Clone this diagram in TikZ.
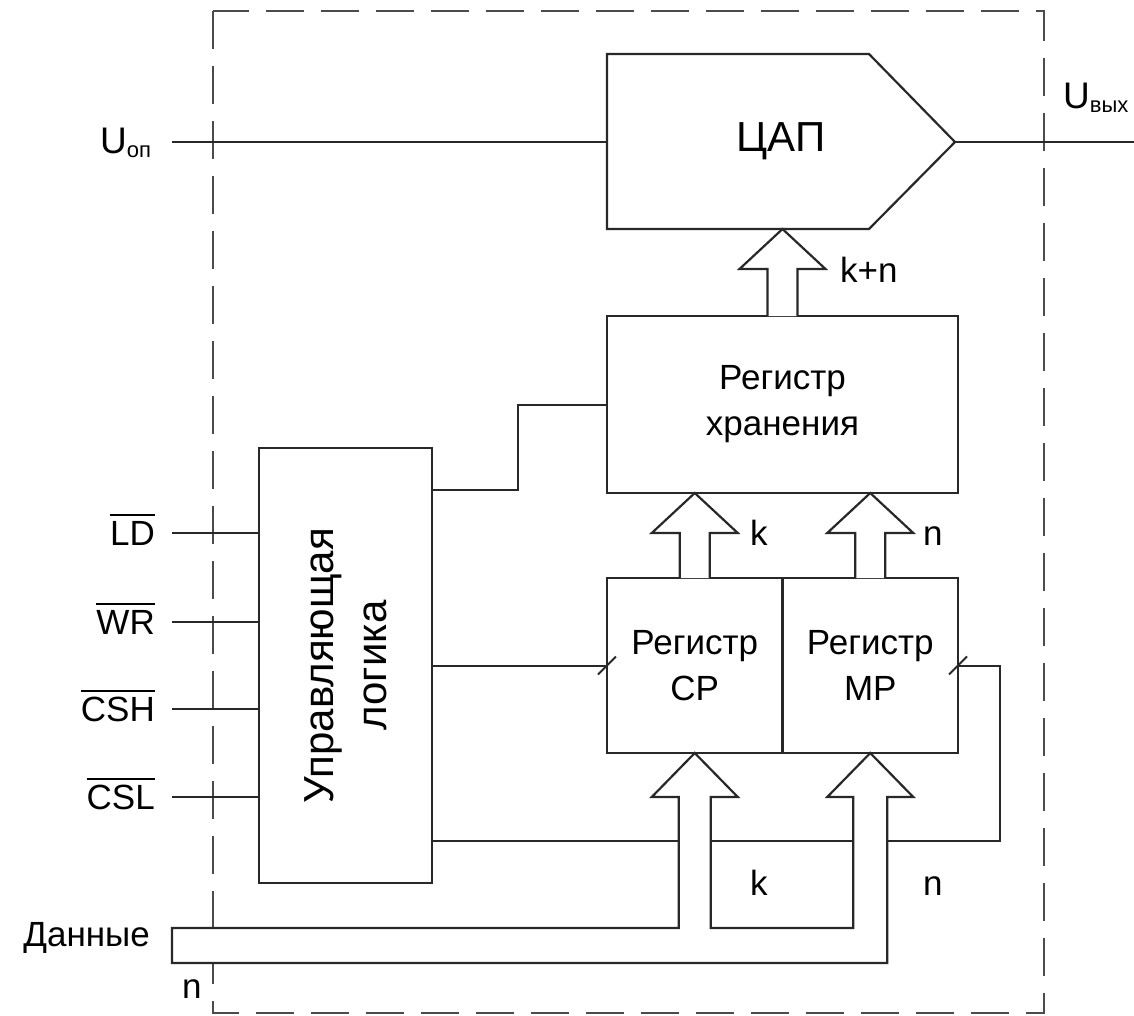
\documentclass[tikz,border=0pt]{standalone}
\usepackage{fontspec}
\setmainfont{Liberation Sans}
\usetikzlibrary{positioning, calc}
\definecolor{myline}{RGB}{40,40,40}
\definecolor{myframe}{RGB}{75,75,75}
\newcommand{\regfont}{\fontsize{35}{46}\selectfont}
\newcommand{\bigfont}{\fontsize{42}{53}\selectfont}
\newcommand{\ufont}{\fontsize{37}{44}\selectfont}
\newcommand{\subfont}{\fontsize{22}{24}\selectfont}
\newcommand{\ovl}[1]{\vbox{\hrule height 2pt\kern 5pt\hbox{#1}}}
% wide bus arrow: #1 = base anchor, #2 = tip
\newcommand{\busarrow}[2]{%
  \draw[bus] ($(#1)+(-15,0)$) -- ($(#2)+(-15,40)$) -- ($(#2)+(-43,40)$) -- (#2)
    -- ($(#2)+(43,40)$) -- ($(#2)+(15,40)$) -- ($(#1)+(15,0)$);}
\tikzset{
  box/.style={rectangle, draw=myline, fill=white, line width=2.2pt,
    outer sep=0pt, inner sep=0pt, align=center, font=\regfont},
  wire/.style={draw=myline, line width=2pt},
  bus/.style={draw=myline, fill=white, line width=2.2pt, line join=miter},
  frame/.style={draw=myframe, line width=2.5pt, dash pattern=on 38pt off 17pt},
  lbl/.style={font=\regfont, inner sep=0pt}
}
\begin{document}
\begin{tikzpicture}[x=1pt, y=-1pt]
  \useasboundingbox (0,0) rectangle (1134,1015);

  % -- chip border --
  \draw[frame] (213,11) rectangle (1044,1013);

  % -- DAC --
  \coordinate (dacnw)  at (607,54);
  \coordinate (dacne)  at (869,54);
  \coordinate (dactip) at (955,142);
  \coordinate (dacse)  at (869,229);
  \coordinate (dacsw)  at (607,229);
  \draw[bus] (dacnw) -- (dacne) -- (dactip) -- (dacse) -- (dacsw) -- cycle;
  \node[lbl, font=\bigfont] (dac) at (781,141) {ЦАП};

  % -- registers and logic --
  \node[box, minimum width=351pt, minimum height=177pt] (reg) at (782.5,404.5) {Регистр\\хранения};
  \node[box, minimum width=175.5pt, minimum height=175pt] (cp) at (694.75,665.5) {Регистр\\CP};
  \node[box, minimum width=175.5pt, minimum height=175pt, right=0pt of cp] (mp) {Регистр\\MP};
  \node[box, minimum width=173pt, minimum height=435pt] (logic) at (345.5,665.5) {};
  \node[lbl, font=\bigfont, rotate=90, align=center] (logictxt) at (logic.center) {Управляющая\\логика};

  % -- reference and output --
  \node[lbl, anchor=base west] (uref) at (100,153) {\ufont U\raisebox{-4pt}{\subfont оп}};
  \node[lbl, anchor=base west] (uout) at (1063,108) {\ufont U\raisebox{-4pt}{\subfont вых}};
  \coordinate (refin) at (172,142);
  \coordinate (outend) at (1134,142);
  \draw[wire] (refin) -- (refin -| dacnw);
  \draw[wire] (dactip) -- (outend);

  % -- control inputs --
  \foreach \sig/\yy [count=\i] in {LD/533, WR/622, CSH/709, CSL/797} {
    \coordinate (pin\i) at (172,\yy);
    \draw[wire] (pin\i) -- (pin\i -| logic.west);
    \node[lbl, anchor=base east] (sig\i) at ($(pin\i)+(-17,12.5)$) {\ovl{\sig}};
  }

  % -- control lines --
  \draw[wire] ($(logic.north east)+(0,42)$) -- ++(86,0) |- (reg.west);
  \draw[wire] (logic.east) -- (cp.west);
  \draw[wire] ($(logic.south east)+(0,-42)$) -| ($(mp.east)+(42,0)$) -- (mp.east);
  \foreach \pt in {cp.west, mp.east}
    \draw[wire] ($(\pt)+(-9,9)$) -- ($(\pt)+(9,-9)$);

  % -- internal buses --
  \coordinate (kntip) at (reg.north |- dacsw);
  \coordinate (ktip)  at (cp.north |- reg.south);
  \coordinate (ntip)  at (mp.north |- reg.south);
  \busarrow{reg.north}{kntip}
  \busarrow{cp.north}{ktip}
  \busarrow{mp.north}{ntip}

  % -- data bus --
  \coordinate (dtop) at (172,928);
  \coordinate (dbot) at (172,963);
  \draw[bus] (dtop) -- ($(cp.south)+(-16,175)$) -- ($(cp.south)+(-16,44)$)
    -- ($(cp.south)+(-43,44)$) -- (cp.south) -- ($(cp.south)+(43,44)$)
    -- ($(cp.south)+(16,44)$) -- ($(cp.south)+(16,175)$)
    -- ($(mp.south)+(-17,175)$) -- ($(mp.south)+(-17,44)$)
    -- ($(mp.south)+(-43,44)$) -- (mp.south) -- ($(mp.south)+(43,44)$)
    -- ($(mp.south)+(17,44)$) -- ($(mp.south)+(17,210)$) -- (dbot) -- cycle;

  % -- labels --
  \node[lbl, anchor=base west] (lkn) at (840,282) {k+n};
  \node[lbl, anchor=base west] (lk1) at (750,545) {k};
  \node[lbl, anchor=base west] (ln1) at (923,545) {n};
  \node[lbl, anchor=base west] (lk2) at (750,895) {k};
  \node[lbl, anchor=base west] (ln2) at (923,895) {n};
  \node[lbl, anchor=base west] (ln3) at (182,998) {n};
  \node[lbl, anchor=base east] (data) at (150,946) {Данные};
\end{tikzpicture}
\end{document}
